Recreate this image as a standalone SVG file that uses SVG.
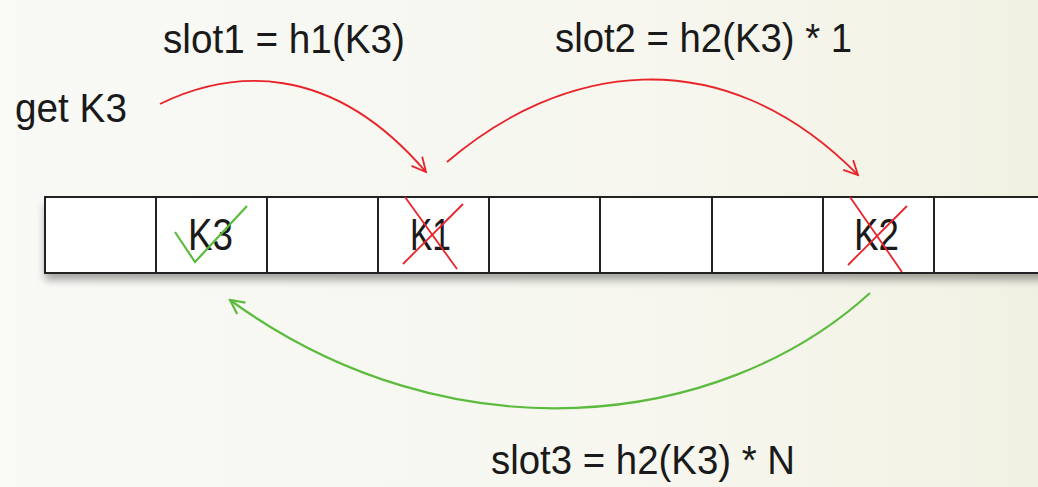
<svg xmlns="http://www.w3.org/2000/svg" width="1038" height="487" viewBox="0 0 1038 487">
<style>
.lbl{font-family:"Liberation Sans",Arial,sans-serif;font-size:41px;fill:#1a1a1a}
.key{font-family:"Liberation Sans",Arial,sans-serif;font-size:45px;fill:#1a1a1a}
.cell{fill:#fff;stroke:#222;stroke-width:2}
.red{fill:none;stroke:#e8242a;stroke-width:1.8}
.grn{fill:none;stroke:#5cbb3e;stroke-width:2.2}
</style>
<defs>
<linearGradient id="bg" x1="0" y1="0" x2="1" y2="0">
<stop offset="0" stop-color="#f9f9f6"/>
<stop offset="0.6" stop-color="#f7f7f0"/>
<stop offset="1" stop-color="#f1f1e3"/>
</linearGradient>
<filter id="sh" x="-5%" y="-20%" width="110%" height="160%">
<feDropShadow dx="0" dy="7" stdDeviation="4" flood-color="#000" flood-opacity="0.35"/>
</filter>
<marker id="ar" viewBox="0 0 20 20" refX="18" refY="10" markerWidth="20" markerHeight="20" markerUnits="userSpaceOnUse" orient="auto">
<path d="M4,3 L18,10 L4,17" fill="none" stroke="#e8242a" stroke-width="1.8"/>
</marker>
<marker id="ag" viewBox="0 0 20 20" refX="18" refY="10" markerWidth="20" markerHeight="20" markerUnits="userSpaceOnUse" orient="auto">
<path d="M4,3 L18,10 L4,17" fill="none" stroke="#5cbb3e" stroke-width="2.2"/>
</marker>
</defs>
<rect width="1038" height="487" fill="url(#bg)"/>
<g id="array">
<rect x="45" y="197" width="1010" height="76" fill="#fff" filter="url(#sh)"/>
<rect class="cell" x="45" y="197" width="111" height="76"/>
<rect class="cell" x="156" y="197" width="111" height="76"/>
<rect class="cell" x="267" y="197" width="111" height="76"/>
<rect class="cell" x="378" y="197" width="111" height="76"/>
<rect class="cell" x="489" y="197" width="111" height="76"/>
<rect class="cell" x="600" y="197" width="112" height="76"/>
<rect class="cell" x="712" y="197" width="111" height="76"/>
<rect class="cell" x="823" y="197" width="111" height="76"/>
<rect class="cell" x="934" y="197" width="120" height="76"/>
</g>
<g id="slotK3">
<text class="key" x="188" y="250" textLength="45" lengthAdjust="spacingAndGlyphs">K3</text>
<polyline class="grn" points="175,232 195,262 247,206"/>
</g>
<g id="slotK1">
<text class="key" x="410" y="250" textLength="41" lengthAdjust="spacingAndGlyphs">K1</text>
<line class="red" x1="405" y1="197" x2="457" y2="269"/>
<line class="red" x1="463" y1="204" x2="403" y2="264"/>
</g>
<g id="slotK2">
<text class="key" x="854" y="250" textLength="45" lengthAdjust="spacingAndGlyphs">K2</text>
<line class="red" x1="850" y1="197" x2="902" y2="272"/>
<line class="red" x1="907" y1="206" x2="848" y2="265"/>
</g>
<g id="labels">
<text class="lbl" x="15" y="122" textLength="112" lengthAdjust="spacingAndGlyphs">get K3</text>
<text class="lbl" x="163" y="53" textLength="242" lengthAdjust="spacingAndGlyphs">slot1 = h1(K3)</text>
<text class="lbl" x="555" y="52" textLength="297" lengthAdjust="spacingAndGlyphs">slot2 = h2(K3) * 1</text>
<text class="lbl" x="491" y="474" textLength="304" lengthAdjust="spacingAndGlyphs">slot3 = h2(K3) * N</text>
</g>
<g id="connectors">
<path class="red" d="M160,104 C230,70 330,60 426,172" marker-end="url(#ar)"/>
<path class="red" d="M447,162 C560,65 720,35 858,175" marker-end="url(#ar)"/>
<path class="grn" d="M870,293 C720,430 450,460 230,300" marker-end="url(#ag)"/>
</g>
</svg>
